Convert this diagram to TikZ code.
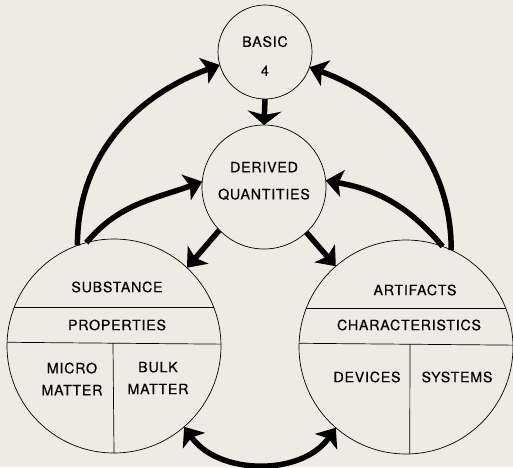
\documentclass[tikz,border=0pt]{standalone}
\usepackage{fontspec}
\setmainfont{TeX Gyre Heros}[LetterSpace=5, FakeBold=0.4]
\usepackage{xcolor}
\usetikzlibrary{arrows.meta, calc}
\definecolor{paper}{RGB}{238,235,228}
\tikzstyle{every node}=[font=\fontsize{14.3}{22}\selectfont]
\tikzstyle{bubble} = [circle, draw, line width=0.7pt, fill=paper, inner sep=0pt, outer sep=0pt]
\tikzstyle{caps} = [align=center, inner sep=0pt]
\tikzstyle{rule} = [draw, line width=0.7pt]
\tikzstyle{flow} = [draw, line width=5.5pt, -{Stealth[length=17pt, width=27pt, inset=4pt]}]

\begin{document}
\begin{tikzpicture}[x=1pt, y=1pt]
    \fill[paper] (0,0) rectangle (513,467);
    \useasboundingbox (0,0) rectangle (513,467);
    % Place nodes
    \node [bubble, minimum size=94pt] (basic) at (265,415) {};
    \node [bubble, minimum size=124pt] (derived) at (264,280) {};
    \node [bubble, minimum size=214pt] (substance) at (114,121) {};
    \node [bubble, minimum size=214pt] (artifacts) at (406,120) {};
    % Texts
    \node [caps] at ([yshift=-4pt]basic.center) {BASIC\\[7pt]4};
    \node [caps] at ([yshift=6pt]derived.center) {DERIVED\\[5pt]QUANTITIES};
    \node [caps] at ([shift={(3,59)}]substance.center) {SUBSTANCE};
    \node [caps] at ([shift={(3,21)}]substance.center) {PROPERTIES};
    \node [caps] at ([shift={(-42,-33)}]substance.center) {MICRO\\MATTER};
    \node [caps] at ([shift={(44,-32)}]substance.center) {BULK\\MATTER};
    \node [caps] at ([shift={(9,57)}]artifacts.center) {ARTIFACTS};
    \node [caps] at ([shift={(3,22)}]artifacts.center) {CHARACTERISTICS};
    \node [caps] at ([shift={(-39,-30)}]artifacts.center) {DEVICES};
    \node [caps] at ([shift={(51,-30)}]artifacts.center) {SYSTEMS};
    % Divide the big circles
    \path [rule] (substance.159) -- (substance.21);
    \path [rule] (substance.178.4) -- (substance.1.6);
    \path [rule] ([shift={(-1,3)}]substance.center) -- (substance.-90.5);
    \path [rule] (artifacts.159) -- (artifacts.21);
    \path [rule] (artifacts.178.4) -- (artifacts.1.6);
    \path [rule] ([shift={(4,3)}]artifacts.center) -- (artifacts.-88);
    % Draw edges
    \path [flow, -{Stealth[length=14pt, width=34pt, inset=4pt]}] (basic.south) -- (derived.north);
    \path [flow] (substance.110) to[out=90, in=200] (basic.196);
    \path [flow] (artifacts.65) to[out=90, in=-20] (basic.-19);
    \path [flow] (substance.105) to[out=50, in=200] (derived.175);
    \path [flow] (artifacts.70) to[out=130, in=-10] (derived.6);
    \path [flow] (derived.224) -- (substance.47);
    \path [flow] (derived.-47) -- (artifacts.131);
    \path [flow, {Stealth[length=17pt, width=27pt, inset=4pt]}-{Stealth[length=17pt, width=27pt, inset=4pt]}] (substance.-49) to[out=-55, in=-125] (artifacts.-131.5);
\end{tikzpicture}
\end{document}
